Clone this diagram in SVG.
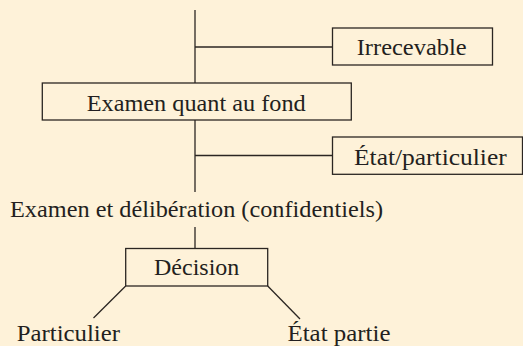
<svg xmlns="http://www.w3.org/2000/svg" width="523" height="346" viewBox="0 0 523 346">
<style>
.bg{fill:#FEF2D9}
.box{fill:#FEF2D9;stroke:#2B2622;stroke-width:1.3}
.ln{stroke:#2B2622;stroke-width:1.3;fill:none}
text{font-family:"Liberation Serif","Times New Roman",serif;font-size:23px;fill:#231F20;lengthAdjust:spacingAndGlyphs}
</style>
<rect class="bg" x="0" y="0" width="523" height="346"/>
<g id="connectors">
<line class="ln" x1="195" y1="10" x2="195" y2="83"/>
<line class="ln" x1="195" y1="47" x2="332.5" y2="47"/>
<line class="ln" x1="195" y1="120" x2="195" y2="192"/>
<line class="ln" x1="195" y1="155.5" x2="332.5" y2="155.5"/>
<line class="ln" x1="195" y1="227" x2="195" y2="248.5"/>
<line class="ln" x1="125.7" y1="286" x2="93.5" y2="318"/>
<line class="ln" x1="267.7" y1="286" x2="300" y2="319"/>
</g>
<g id="irrecevable">
<rect class="box" x="332.5" y="28" width="160" height="37"/>
<text x="356.7" y="55" textLength="110" lengthAdjust="spacingAndGlyphs">Irrecevable</text>
</g>
<g id="examen-fond">
<rect class="box" x="42.3" y="83" width="309" height="37"/>
<text x="86.7" y="111" textLength="219" lengthAdjust="spacingAndGlyphs">Examen quant au fond</text>
</g>
<g id="etat-particulier">
<rect class="box" x="332.5" y="137" width="190" height="37.3"/>
<text x="354" y="165" textLength="152.7" lengthAdjust="spacingAndGlyphs">État/particulier</text>
</g>
<g id="examen-deliberation">
<text x="10" y="216.7" textLength="373" lengthAdjust="spacingAndGlyphs">Examen et délibération (confidentiels)</text>
</g>
<g id="decision">
<rect class="box" x="125.7" y="248.5" width="142" height="37.5"/>
<text x="154" y="275" textLength="85.3" lengthAdjust="spacingAndGlyphs">Décision</text>
</g>
<g id="particulier">
<text x="16.7" y="341" textLength="103.3" lengthAdjust="spacingAndGlyphs">Particulier</text>
</g>
<g id="etat-partie">
<text x="287.5" y="341" textLength="103" lengthAdjust="spacingAndGlyphs">État partie</text>
</g>
</svg>
